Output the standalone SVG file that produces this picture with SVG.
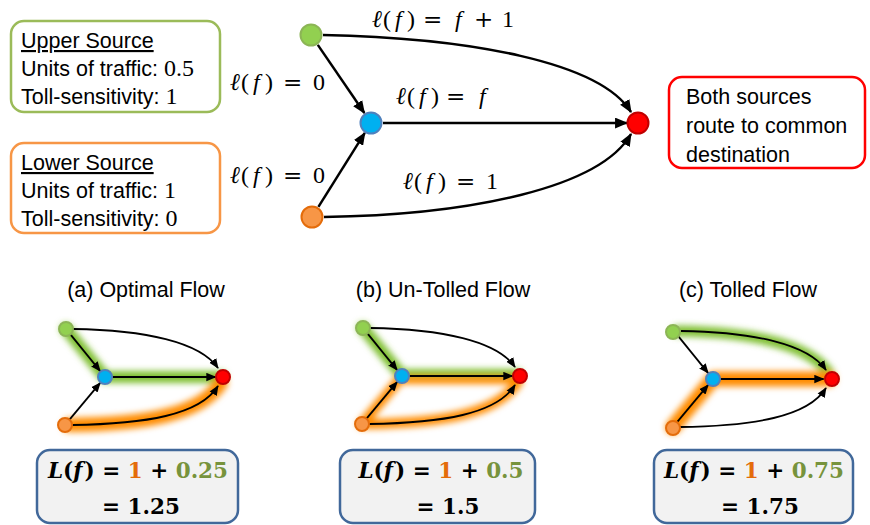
<svg xmlns="http://www.w3.org/2000/svg" width="870" height="525" viewBox="0 0 870 525">
<style>
.sans{font-family:"Liberation Sans",Arial,sans-serif;font-size:21.5px;fill:#000}
.ser{font-family:"Liberation Serif","DejaVu Serif",serif;font-size:24px}
.m{font-family:"Liberation Serif","DejaVu Serif",serif;font-size:24px;fill:#000}
.mi{font-style:italic}
.op{font-family:"DejaVu Serif",serif;font-size:23px}
.f{font-family:"DejaVu Serif",serif;font-size:21.5px;font-weight:bold;fill:#000}
.edge{fill:none;stroke:#000;stroke-width:2.5}
.sedge{fill:none;stroke:#000;stroke-width:1.8}
.g{fill:#92D050;stroke:#8CB556;stroke-width:2}
.b{fill:#00B0F0;stroke:#4F81BD;stroke-width:2}
.r{fill:#FF0000;stroke:#C00000;stroke-width:2}
.o{fill:#F79646;stroke:#E46C0A;stroke-width:2}
.gg{fill:none;stroke:#7FBF30;stroke-linecap:round;stroke-linejoin:round}
.og{fill:none;stroke:#FF8C00;stroke-linecap:round;stroke-linejoin:round}
.fbox{fill:#F2F2F2;stroke:#41689A;stroke-width:2.5}
</style>
<defs>
<marker id="aL" viewBox="0 0 12 10" refX="11" refY="5" markerWidth="13" markerHeight="11" markerUnits="userSpaceOnUse" orient="auto"><path d="M0,0 L12,5 L0,10 z" fill="#000"/></marker>
<marker id="aS" viewBox="0 0 12 10" refX="11" refY="5" markerWidth="10" markerHeight="9" markerUnits="userSpaceOnUse" orient="auto"><path d="M0,0 L12,5 L0,10 z" fill="#000"/></marker>
<filter id="blur" filterUnits="userSpaceOnUse" x="-90" y="-90" width="280" height="180"><feGaussianBlur stdDeviation="3"/></filter>
</defs>

<!-- Info boxes -->
<g id="upper-source">
<rect x="11" y="21" width="209" height="91" rx="13" fill="#fff" stroke="#9BBB59" stroke-width="2.5"/>
<text class="sans" x="21" y="48" text-decoration="underline">Upper Source</text>
<text class="sans" x="21" y="76">Units of traffic: <tspan class="ser">0.5</tspan></text>
<text class="sans" x="21" y="104">Toll-sensitivity: <tspan class="ser">1</tspan></text>
</g>
<g id="lower-source">
<rect x="11" y="143" width="209" height="90" rx="13" fill="#fff" stroke="#F79646" stroke-width="2.5"/>
<text class="sans" x="21" y="170" text-decoration="underline">Lower Source</text>
<text class="sans" x="21" y="198">Units of traffic: <tspan class="ser">1</tspan></text>
<text class="sans" x="21" y="226">Toll-sensitivity: <tspan class="ser">0</tspan></text>
</g>
<g id="destination-note">
<rect x="669" y="77" width="196" height="91" rx="13" fill="#fff" stroke="#FF0000" stroke-width="2.5"/>
<text class="sans" x="686" y="104">Both sources</text>
<text class="sans" x="686" y="133">route to common</text>
<text class="sans" x="686" y="162">destination</text>
</g>

<!-- Main graph connectors -->
<g id="connectors">
<path class="edge" d="M317.8,44.9 L364.4,113" marker-end="url(#aL)"/>
<path class="edge" d="M318.4,206.8 L364.8,132.8" marker-end="url(#aL)"/>
<path class="edge" d="M383,123 L627,123" marker-end="url(#aL)"/>
<path class="edge" d="M323,35 C470,38 600,62 631,112" marker-end="url(#aL)"/>
<path class="edge" d="M324,217 C470,215 600,188 631,134" marker-end="url(#aL)"/>
</g>

<!-- Edge labels -->
<g id="labels">
<text class="m" y="27"><tspan class="mi" x="372">ℓ</tspan><tspan x="383">(</tspan><tspan class="mi" x="395">f</tspan><tspan x="407">)</tspan><tspan class="op" x="423">=</tspan><tspan class="mi" x="455">f</tspan><tspan class="op" x="474">+</tspan><tspan x="502">1</tspan></text>
<text class="m" y="90"><tspan class="mi" x="230">ℓ</tspan><tspan x="241">(</tspan><tspan class="mi" x="253">f</tspan><tspan x="265">)</tspan><tspan class="op" x="283">=</tspan><tspan x="313">0</tspan></text>
<text class="m" y="104"><tspan class="mi" x="396">ℓ</tspan><tspan x="407">(</tspan><tspan class="mi" x="419">f</tspan><tspan x="431">)</tspan><tspan class="op" x="446">=</tspan><tspan class="mi" x="479">f</tspan></text>
<text class="m" y="183"><tspan class="mi" x="230">ℓ</tspan><tspan x="241">(</tspan><tspan class="mi" x="253">f</tspan><tspan x="265">)</tspan><tspan class="op" x="283">=</tspan><tspan x="313">0</tspan></text>
<text class="m" y="189"><tspan class="mi" x="403">ℓ</tspan><tspan x="414">(</tspan><tspan class="mi" x="426">f</tspan><tspan x="438">)</tspan><tspan class="op" x="456">=</tspan><tspan x="486">1</tspan></text>
</g>

<!-- Main graph nodes -->
<g id="node-upper"><circle class="g" cx="311" cy="35" r="10.5"/></g>
<g id="node-middle"><circle class="b" cx="371" cy="123" r="10.5"/></g>
<g id="node-dest"><circle class="r" cx="638" cy="123" r="10.5"/></g>
<g id="node-lower"><circle class="o" cx="312" cy="217" r="10.5"/></g>

<!-- Panel titles -->
<text class="sans" x="146" y="297" text-anchor="middle">(a) Optimal Flow</text>
<text class="sans" x="443" y="297" text-anchor="middle">(b) Un-Tolled Flow</text>
<text class="sans" x="748" y="297" text-anchor="middle">(c) Tolled Flow</text>

<!-- Panel (a) -->
<g id="panel-a" transform="translate(105,377)">
<g filter="url(#blur)">
<path class="gg" stroke-width="12" d="M-39,-48 L0,0 L116,0"/>
<path class="og" stroke-width="14" d="M-36,48 C40,47 95,38 116,6"/>
</g>
<g class="pconn">
<path class="sedge" d="M-34.6,-42.6 L-4.8,-5.9" marker-end="url(#aS)"/>
<path class="sedge" d="M-35.5,42.6 L-4.8,5.8" marker-end="url(#aS)"/>
<path class="sedge" d="M7.5,0 L110.5,0" marker-end="url(#aS)"/>
<path class="sedge" stroke-width="1.4" d="M-32,-48 C40,-47 95,-35 113,-9" marker-end="url(#aS)"/>
<path class="sedge" d="M-33,48 C40,47 95,38 113,9" marker-end="url(#aS)"/>
</g>
<g id="a-upper"><circle class="g" cx="-39" cy="-48" r="7" stroke-width="1.5"/></g>
<g id="a-middle"><circle class="b" cx="0" cy="0" r="7" stroke-width="1.5"/></g>
<g id="a-dest"><circle class="r" cx="118" cy="0" r="7" stroke-width="1.5"/></g>
<g id="a-lower"><circle class="o" cx="-40" cy="48" r="7" stroke-width="1.5"/></g>
</g>

<!-- Panel (b) -->
<g id="panel-b" transform="translate(402,376)">
<g filter="url(#blur)">
<path class="gg" stroke-width="12" d="M-39,-48 L-2,-3"/>
<path class="gg" stroke-width="8" d="M0,-3 L116,-3"/>
<path class="og" stroke-width="8" d="M0,4 L116,4"/>
<path class="og" stroke-width="10" d="M-40,48 L-2,3"/>
<path class="og" stroke-width="10" d="M-36,48 C40,47 95,38 116,6"/>
</g>
<g class="pconn">
<path class="sedge" d="M-34.6,-42.6 L-4.8,-5.9" marker-end="url(#aS)"/>
<path class="sedge" d="M-35.5,42.6 L-4.8,5.8" marker-end="url(#aS)"/>
<path class="sedge" d="M7.5,0 L110.5,0" marker-end="url(#aS)"/>
<path class="sedge" stroke-width="1.4" d="M-32,-48 C40,-47 95,-35 113,-9" marker-end="url(#aS)"/>
<path class="sedge" d="M-33,48 C40,47 95,38 113,9" marker-end="url(#aS)"/>
</g>
<g id="b-upper"><circle class="g" cx="-39" cy="-48" r="7" stroke-width="1.5"/></g>
<g id="b-middle"><circle class="b" cx="0" cy="0" r="7" stroke-width="1.5"/></g>
<g id="b-dest"><circle class="r" cx="118" cy="0" r="7" stroke-width="1.5"/></g>
<g id="b-lower"><circle class="o" cx="-40" cy="48" r="7" stroke-width="1.5"/></g>
</g>

<!-- Panel (c) -->
<g id="panel-c" transform="translate(713,379)">
<g filter="url(#blur)">
<path class="gg" stroke-width="11" d="M-36,-48 C40,-47 95,-35 116,-6"/>
<path class="og" stroke-width="15" d="M-40,48 L0,0 L116,0"/>
</g>
<g class="pconn">
<path class="sedge" d="M-34.6,-42.6 L-4.8,-5.9" marker-end="url(#aS)"/>
<path class="sedge" d="M-35.5,42.6 L-4.8,5.8" marker-end="url(#aS)"/>
<path class="sedge" d="M7.5,0 L110.5,0" marker-end="url(#aS)"/>
<path class="sedge" d="M-32,-48 C40,-47 95,-35 113,-9" marker-end="url(#aS)"/>
<path class="sedge" stroke-width="1.4" d="M-33,48 C40,47 95,38 113,9" marker-end="url(#aS)"/>
</g>
<g id="c-upper"><circle class="g" cx="-40" cy="-47" r="7" stroke-width="1.5"/></g>
<g id="c-middle"><circle class="b" cx="0" cy="0" r="7" stroke-width="1.5"/></g>
<g id="c-dest"><circle class="r" cx="119" cy="0" r="7" stroke-width="1.5"/></g>
<g id="c-lower"><circle class="o" cx="-40" cy="49" r="7" stroke-width="1.5"/></g>
</g>

<!-- Formula boxes -->
<g id="formula-a">
<rect class="fbox" x="37" y="450" width="201" height="73" rx="13"/>
<text class="f" x="138" y="478" text-anchor="middle"><tspan font-style="italic">L</tspan>(<tspan font-style="italic">f</tspan><tspan dx="2">)</tspan> = <tspan fill="#E46C0A">1</tspan> + <tspan fill="#77933C">0.25</tspan></text>
<text class="f" x="141" y="514" text-anchor="middle">= 1.25</text>
</g>
<g id="formula-b">
<rect class="fbox" x="340" y="450" width="195" height="73" rx="13"/>
<text class="f" x="441" y="478" text-anchor="middle"><tspan font-style="italic">L</tspan>(<tspan font-style="italic">f</tspan><tspan dx="2">)</tspan> = <tspan fill="#E46C0A">1</tspan> + <tspan fill="#77933C">0.5</tspan></text>
<text class="f" x="448" y="514" text-anchor="middle">= 1.5</text>
</g>
<g id="formula-c">
<rect class="fbox" x="654" y="450" width="199" height="73" rx="13"/>
<text class="f" x="754" y="478" text-anchor="middle"><tspan font-style="italic">L</tspan>(<tspan font-style="italic">f</tspan><tspan dx="2">)</tspan> = <tspan fill="#E46C0A">1</tspan> + <tspan fill="#77933C">0.75</tspan></text>
<text class="f" x="760" y="514" text-anchor="middle">= 1.75</text>
</g>
</svg>
